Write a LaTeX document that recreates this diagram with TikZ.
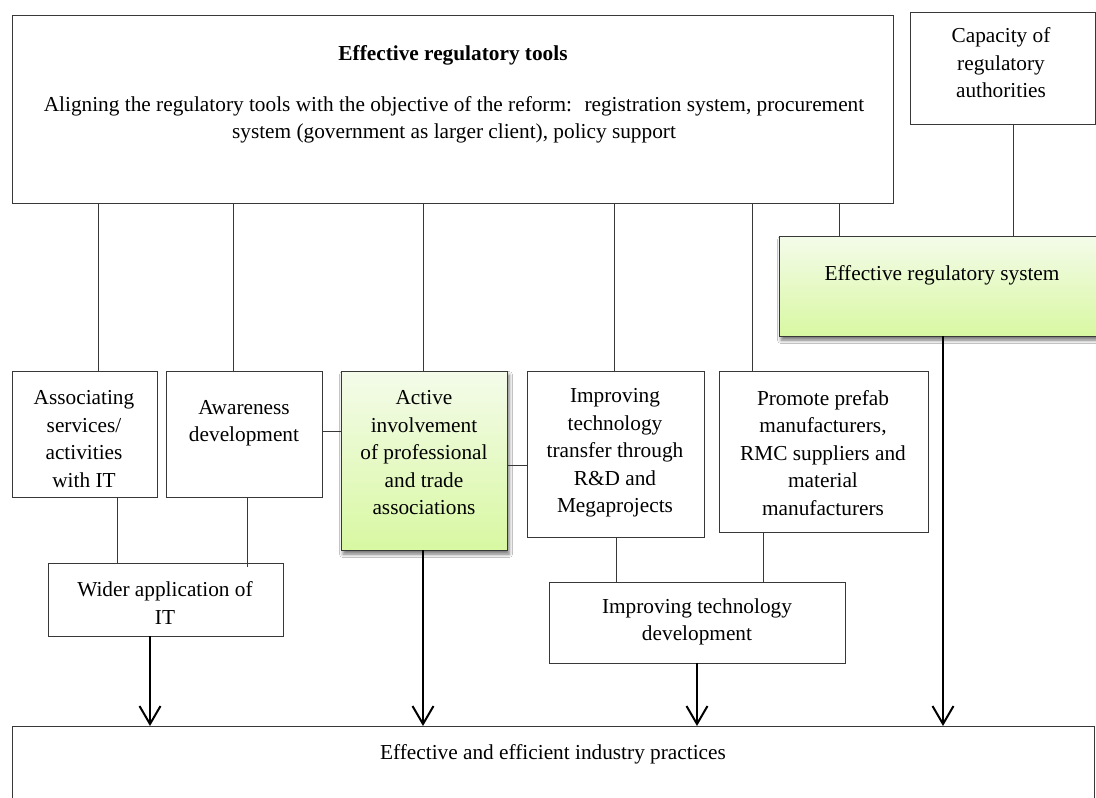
\documentclass[tikz,border=0pt]{standalone}
\usepackage{fontspec}
\setmainfont{Liberation Serif}
\usetikzlibrary{arrows.meta,shadows.blur}

\definecolor{edge}{rgb}{0.22,0.22,0.22}
\definecolor{greentop}{RGB}{244,251,234}
\definecolor{greenbot}{RGB}{216,248,162}

\tikzset{
  box/.style={draw=edge, line width=0.9pt, fill=white, inner sep=0pt, outer sep=0pt,
              anchor=north west, rectangle},
  greenbox/.style={box, top color=greentop, bottom color=greenbot,
              blur shadow={shadow xshift=2pt, shadow yshift=-4pt,
                           shadow blur radius=3.5pt, shadow opacity=55}},
  txt/.style={align=center, inner sep=0pt, font=\fontsize{21.3}{27.5}\selectfont},
  conn/.style={draw=edge, line width=0.9pt},
  flow/.style={draw=black, line width=2pt,
               -{Straight Barb[length=18pt, width=21pt, line width=2pt]}}
}

\begin{document}
\begin{tikzpicture}[x=1pt, y=-1pt]
\clip (0,0) rectangle (1096,798);
\fill[white] (0,0) rectangle (1096,798);

% boxes
\node[box, minimum width=881pt, minimum height=188pt] (tools) at (12,15) {};
\node[box, minimum width=185pt, minimum height=112pt] (capacity) at (910,12) {};
\node[greenbox, minimum width=330pt, minimum height=100pt] (system) at (779,236) {};
\node[box, minimum width=145pt, minimum height=126pt] (assoc) at (12,371) {};
\node[box, minimum width=156pt, minimum height=126pt] (aware) at (166,371) {};
\node[greenbox, minimum width=166pt, minimum height=179pt] (active) at (341,371) {};
\node[box, minimum width=177pt, minimum height=166pt] (transfer) at (527,371) {};
\node[box, minimum width=209pt, minimum height=161pt] (prefab) at (719,371) {};
\node[box, minimum width=235pt, minimum height=73pt] (wider) at (48,563) {};
\node[box, minimum width=296pt, minimum height=81pt] (techdev) at (549,582) {};
\node[box, minimum width=1082pt, minimum height=100pt] (practice) at (12,726) {};

% texts
\node[txt, font=\fontsize{21.3}{27.5}\selectfont\bfseries] (toolstitle) at (453,55) {Effective regulatory tools};
\node[txt] (toolsbody) at (454,120) {Aligning the regulatory tools with the objective of the reform:~ registration system, procurement\\system (government as larger client), policy support};
\node[txt] (capacitytext) at (1001,63) {Capacity of\\regulatory\\authorities};
\node[txt] (systemtext) at (942,275) {Effective regulatory system};
\node[txt] (assoctext) at (84,439) {Associating\\services/\\activities\\with IT};
\node[txt] (awaretext) at (244,423) {Awareness\\development};
\node[txt] (activetext) at (424,453) {Active\\involvement\\of professional\\and trade\\associations};
\node[txt] (transfertext) at (615,453) {Improving\\technology\\transfer through\\R\&D and\\Megaprojects};
\node[txt] (prefabtext) at (823,453) {Promote prefab\\manufacturers,\\RMC suppliers and\\material\\manufacturers};
\node[txt] (widertext) at (165,603) {Wider application of\\IT};
\node[txt] (techdevtext) at (697,622) {Improving technology\\development};
\node[txt] (practicetext) at (553,754) {Effective and efficient industry practices};

% plain links
\draw[conn] (tools.south -| 98,0) -- (assoc.north -| 98,0);
\draw[conn] (tools.south -| 233,0) -- (aware.north -| 233,0);
\draw[conn] (tools.south -| 423,0) -- (active.north -| 423,0);
\draw[conn] (tools.south -| 614,0) -- (transfer.north -| 614,0);
\draw[conn] (tools.south -| 752,0) -- (prefab.north -| 752,0);
\draw[conn] (tools.south -| 839,0) -- (system.north -| 839,0);
\draw[conn] (capacity.south -| 1013,0) -- (system.north -| 1013,0);
\draw[conn] (assoc.south -| 117,0) -- (wider.north -| 117,0);
\draw[conn] (aware.south -| 247,0) -- ([yshift=-4pt]wider.north -| 247,0);
\draw[conn] (aware.east |- 0,431) -- (active.west |- 0,431);
\draw[conn] (active.east |- 0,465) -- (transfer.west |- 0,465);
\draw[conn] (transfer.south -| 616,0) -- (techdev.north -| 616,0);
\draw[conn] (prefab.south -| 763,0) -- (techdev.north -| 763,0);

% arrows into the practices box
\draw[flow] (wider.south -| 150,0) -- (practice.north -| 150,0);
\draw[flow] (active.south -| 423,0) -- (practice.north -| 423,0);
\draw[flow] (techdev.south -| 697,0) -- (practice.north -| 697,0);
\draw[flow] (system.south -| 943,0) -- (practice.north -| 943,0);
\end{tikzpicture}
\end{document}
